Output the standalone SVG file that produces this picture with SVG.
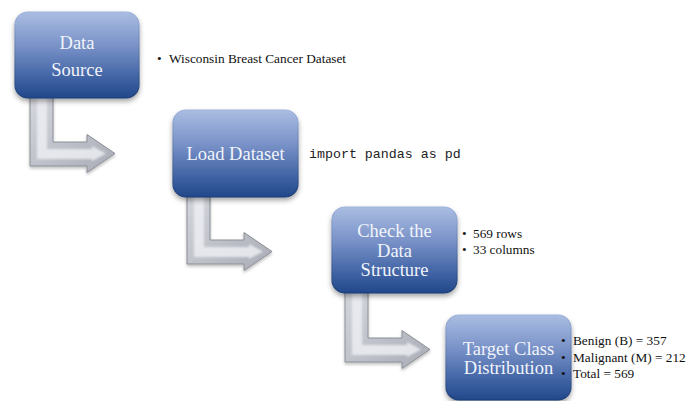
<svg xmlns="http://www.w3.org/2000/svg" xmlns:xlink="http://www.w3.org/1999/xlink" width="686" height="401" viewBox="0 0 686 401">
  <defs>
    <linearGradient id="boxFill" x1="0" y1="0" x2="0" y2="1">
      <stop offset="0" stop-color="#aabde2"/>
      <stop offset="0.4" stop-color="#7891c7"/>
      <stop offset="0.8" stop-color="#3b5fa1"/>
      <stop offset="1" stop-color="#22488a"/>
    </linearGradient>
    <linearGradient id="boxEdge" x1="0" y1="0" x2="0" y2="1">
      <stop offset="0" stop-color="#9fb3dc"/>
      <stop offset="1" stop-color="#1b3b74"/>
    </linearGradient>
    <linearGradient id="arrowFill" x1="0" y1="0" x2="1" y2="1">
      <stop offset="0" stop-color="#d6d8df"/>
      <stop offset="1" stop-color="#a9acb5"/>
    </linearGradient>
    <filter id="boxShadow" x="-20%" y="-20%" width="140%" height="150%">
      <feDropShadow dx="0" dy="3" stdDeviation="2.5" flood-color="#000" flood-opacity="0.35"/>
    </filter>
    <filter id="arrowShadow" x="-20%" y="-20%" width="140%" height="140%">
      <feDropShadow dx="0" dy="2" stdDeviation="1.5" flood-color="#000" flood-opacity="0.25"/>
    </filter>
    <filter id="soft" x="-10%" y="-10%" width="120%" height="120%">
      <feGaussianBlur stdDeviation="1.2"/>
    </filter>
    <!-- bent-up arrow with bevelled face -->
    <g id="bentArrow">
      <path d="M30,88 V166 H87 V172.5 L115,153.5 L87,134.5 V142 H53 V88 Z" fill="url(#arrowFill)" stroke="#8b8e97" stroke-width="1" filter="url(#arrowShadow)"/>
      <path d="M37,88 V159 H92 V161 L106,153.5 L92,146 V149 H47 V88 Z" fill="#eceef3" opacity="0.85" filter="url(#soft)"/>
    </g>
    <style>
      .box { fill: url(#boxFill); stroke: url(#boxEdge); stroke-width: 1.2; filter: url(#boxShadow); }
      .label { font-family: "Liberation Serif", "Times New Roman", serif; font-size: 18.5px; fill: #f1f4fb; text-anchor: middle; }
      .note { font-family: "Liberation Serif", "Times New Roman", serif; font-size: 13.3px; fill: #111; }
      .code { font-family: "Liberation Mono", "Courier New", monospace; font-size: 13.3px; fill: #222; }
    </style>
  </defs>

  <rect width="686" height="401" fill="#ffffff"/>

  <!-- connectors -->
  <g id="connectors">
    <use xlink:href="#bentArrow" href="#bentArrow"/>
    <use xlink:href="#bentArrow" href="#bentArrow" transform="translate(157,98)"/>
    <use xlink:href="#bentArrow" href="#bentArrow" transform="translate(315,196)"/>
  </g>

  <!-- step 1 -->
  <g id="data-source">
    <rect class="box" x="15" y="12" width="124" height="86" rx="13"/>
    <text class="label" x="77" y="49">Data</text>
    <text class="label" x="77" y="76">Source</text>
  </g>
  <text class="note" x="157" y="63">•<tspan x="169">Wisconsin Breast Cancer Dataset</tspan></text>

  <!-- step 2 -->
  <g id="load-dataset">
    <rect class="box" x="173" y="110" width="125" height="87" rx="13"/>
    <text class="label" x="235.5" y="160">Load Dataset</text>
  </g>
  <text class="code" x="309" y="158">import pandas as pd</text>

  <!-- step 3 -->
  <g id="check-structure">
    <rect class="box" x="332" y="207" width="125" height="86" rx="13"/>
    <text class="label" x="394.5" y="237">Check the</text>
    <text class="label" x="394.5" y="256.5">Data</text>
    <text class="label" x="394.5" y="276">Structure</text>
  </g>
  <text class="note" x="462" y="238">•<tspan x="473">569 rows</tspan></text>
  <text class="note" x="462" y="254">•<tspan x="473">33 columns</tspan></text>

  <!-- step 4 -->
  <g id="target-distribution">
    <rect class="box" x="446" y="315" width="125" height="85" rx="13"/>
    <text class="label" x="508.5" y="354.5">Target Class</text>
    <text class="label" x="508.5" y="374">Distribution</text>
  </g>
  <text class="note" x="561" y="345">•<tspan x="573">Benign (B) = 357</tspan></text>
  <text class="note" x="561" y="361.5">•<tspan x="573">Malignant (M) = 212</tspan></text>
  <text class="note" x="561" y="378">•<tspan x="573">Total = 569</tspan></text>
</svg>
